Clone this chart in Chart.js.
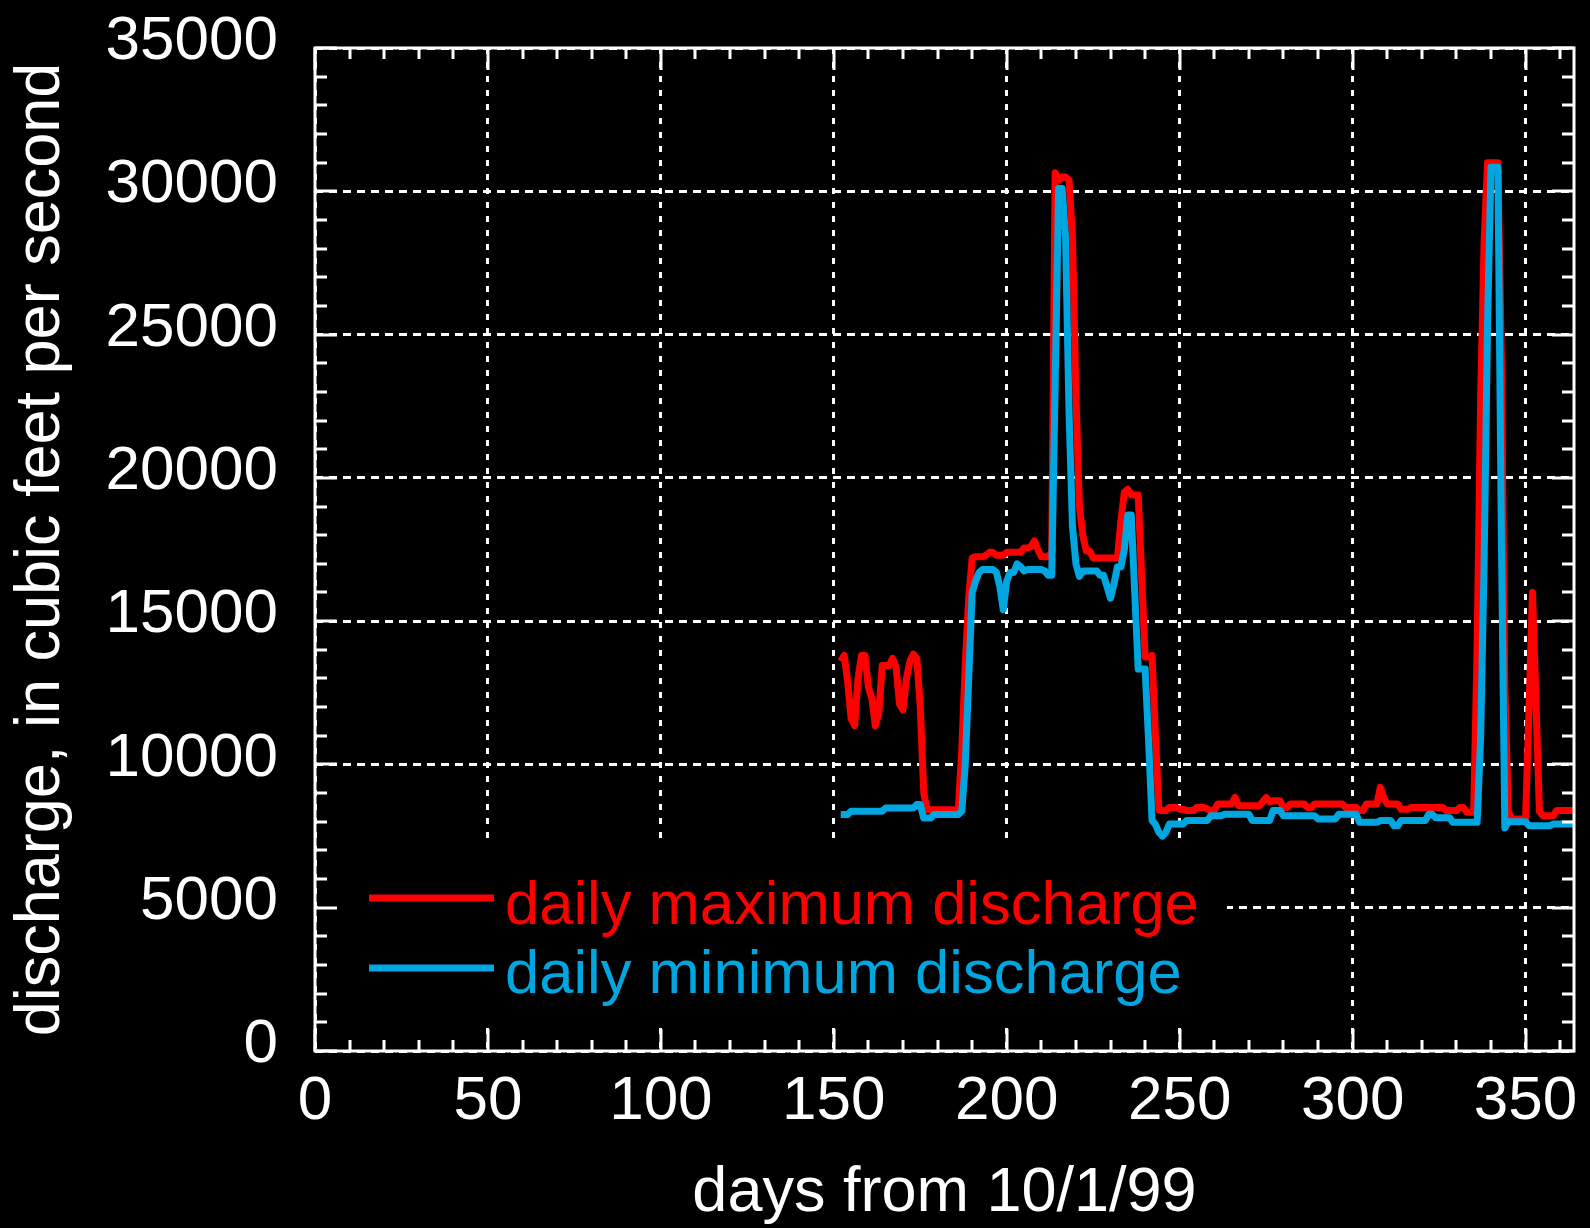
<!DOCTYPE html>
<html>
<head>
<meta charset="utf-8">
<script src="https://cdn.jsdelivr.net/npm/chart.js@4.4.0/dist/chart.umd.min.js"></script>
<style>
  html, body { margin: 0; padding: 0; background: #000; }
  canvas { display: block; }
</style>
</head>
<body>
<canvas id="myChart" width="1590" height="1228"></canvas>
<script>
// first day with data (days from 10/1/99)
var firstDay = 152;

// daily maximum discharge, cfs, one value per day starting at firstDay
var dailyMax = [
  13600, 13800, 12900, 11600, 11350, 13000, 13800, 13800,                 // 152-159
  12700, 12300, 11350, 11800, 13450, 13450, 13450, 13700, 13400, 12100,   // 160
  11900, 13000, 13600, 13850, 13700, 12000, 9000, 8420, 8420, 8420,       // 170
  8420, 8420, 8420, 8420, 8420, 8420, 8450, 10500, 13500, 15800,          // 180
  17200, 17250, 17250, 17250, 17300, 17400, 17400, 17300, 17300, 17300,   // 190
  17400, 17400, 17400, 17400, 17400, 17550, 17550, 17600, 17800, 17500,   // 200
  17250, 17250, 17250, 17400, 30650, 30400, 30500, 30500, 30400, 28400,   // 210
  22900, 19000, 18000, 17450, 17450, 17200, 17200, 17200, 17200, 17200,   // 220
  17200, 17200, 17200, 18500, 19500, 19600, 19400, 19400, 19400, 16600,   // 230
  13750, 13750, 13800, 11000, 8400, 8390, 8390, 8500, 8500, 8500,         // 240
  8440, 8440, 8390, 8390, 8390, 8500, 8500, 8500, 8450, 8390,             // 250
  8390, 8620, 8620, 8620, 8620, 8620, 8850, 8560, 8560, 8560,             // 260
  8560, 8560, 8560, 8560, 8700, 8850, 8700, 8730, 8730, 8730,             // 270
  8500, 8500, 8620, 8620, 8620, 8620, 8620, 8500, 8500, 8620,             // 280
  8620, 8620, 8620, 8620, 8620, 8620, 8620, 8620, 8500, 8500,             // 290
  8500, 8500, 8390, 8390, 8620, 8620, 8620, 8620, 9200, 8850,             // 300
  8620, 8620, 8620, 8620, 8440, 8440, 8440, 8500, 8500, 8500,             // 310
  8500, 8500, 8500, 8500, 8500, 8500, 8500, 8390, 8390, 8390,             // 320
  8390, 8500, 8500, 8330, 8330, 8330, 14140, 22690, 28200, 31000,         // 330
  31000, 31000, 31000, 24160, 12750, 8360, 8100, 8100, 8100, 8100,        // 340
  8100, 12000, 16000, 12200, 8360, 8210, 8210, 8210, 8210, 8390,          // 350
  8390, 8390, 8390, 8390, 8390, 8390                                      // 360-365
];

// daily minimum discharge, cfs
var dailyMin = [
  8250, 8250, 8250, 8370, 8370, 8370, 8370, 8370,                         // 152-159
  8370, 8370, 8370, 8370, 8370, 8480, 8480, 8480, 8480, 8480,             // 160
  8480, 8480, 8480, 8480, 8600, 8600, 8130, 8130, 8130, 8250,             // 170
  8250, 8250, 8250, 8250, 8250, 8250, 8250, 8370, 10000, 13000,           // 180
  16000, 16400, 16700, 16800, 16800, 16800, 16800, 16700, 16200, 15400,   // 190
  16400, 16700, 16700, 17000, 16900, 16750, 16800, 16800, 16800, 16800,   // 200
  16800, 16750, 16600, 16600, 23300, 30100, 30100, 28400, 22300, 18300,   // 210
  17000, 16560, 16750, 16750, 16750, 16750, 16750, 16600, 16600, 16200,   // 220
  15800, 16300, 16900, 16900, 17500, 18700, 18700, 16000, 13330, 13330,   // 230
  13330, 10850, 8050, 7900, 7630, 7500, 7630, 7920, 7920, 7920,           // 240
  7920, 7920, 8040, 8040, 8040, 8040, 8040, 8040, 8040, 8210,             // 250
  8210, 8210, 8210, 8260, 8260, 8260, 8260, 8260, 8260, 8260,             // 260
  8260, 8040, 8040, 8040, 8040, 8040, 8040, 8390, 8390, 8390,             // 270
  8210, 8210, 8210, 8210, 8210, 8210, 8210, 8210, 8210, 8210,             // 280
  8100, 8100, 8100, 8100, 8100, 8100, 8260, 8260, 8260, 8260,             // 290
  8260, 8260, 7980, 7980, 7980, 7980, 7980, 7980, 8040, 8040,             // 300
  8040, 8040, 7860, 7860, 8040, 8040, 8040, 8040, 8040, 8040,             // 310
  8040, 8040, 8260, 8260, 8140, 8140, 8140, 8140, 8140, 7980,             // 320
  7980, 7980, 7980, 7980, 7980, 7980, 7980, 10890, 16950, 25330,          // 330
  30840, 30840, 30840, 18000, 7780, 8000, 8000, 8000, 8000, 8000,         // 340
  8000, 7860, 7860, 7860, 7860, 7860, 7860, 7860, 7920, 7920,             // 350
  7920, 7920, 7920, 7920, 7920, 7920                                      // 360-365
];

// axis ticks
var xTicks = [0, 50, 100, 150, 200, 250, 300, 350];
var yTicks = [0, 5000, 10000, 15000, 20000, 25000, 30000, 35000];

var seriesNames = ['daily maximum discharge', 'daily minimum discharge'];
var seriesColors = ['#ff0000', '#00a6e0'];

var fontFamily = '"Liberation Sans", Arial, Helvetica, sans-serif';
Chart.defaults.font.family = fontFamily;

// turn a value list into {x: day, y: value} points
function toPoints(values) {
  return values.map(function(v, i) {
    return { x: firstDay + i, y: v };
  });
}

// draws the black background, legend box, frame with inward ticks and the legend
var framePlugin = {
  id: 'framePlugin',
  beforeDraw: function(chart) {
    var ctx = chart.ctx;
    ctx.save();
    ctx.fillStyle = '#000';
    ctx.fillRect(0, 0, chart.width, chart.height);
    ctx.restore();
  },
  beforeDatasetsDraw: function(chart) {
    // legend background hides the grid behind the legend
    var ctx = chart.ctx;
    ctx.save();
    ctx.fillStyle = '#000';
    ctx.fillRect(318, 844, 1227 - 318, 1020 - 844);
    ctx.restore();
  },
  afterDatasetsDraw: function(chart) {
    var ctx = chart.ctx;
    var a = chart.chartArea;
    var xs = chart.scales.x;
    var ys = chart.scales.y;
    ctx.save();
    ctx.strokeStyle = '#fff';
    ctx.lineWidth = 3;
    ctx.beginPath();
    // x ticks every 10 days, longer every 50
    for (var d = 0; d <= xs.max; d += 10) {
      var px = Math.round(xs.getPixelForValue(d));
      var len = d % 50 === 0 ? 22 : 11;
      ctx.moveTo(px, a.bottom); ctx.lineTo(px, a.bottom - len);
      ctx.moveTo(px, a.top); ctx.lineTo(px, a.top + len);
    }
    // y ticks every 1000, longer every 5000
    for (var v = 0; v <= ys.max; v += 1000) {
      var py = Math.round(ys.getPixelForValue(v));
      var ylen = v % 5000 === 0 ? 22 : 12;
      ctx.moveTo(a.left, py); ctx.lineTo(a.left + ylen, py);
      ctx.moveTo(a.right, py); ctx.lineTo(a.right - ylen, py);
    }
    ctx.stroke();
    ctx.strokeRect(a.left, a.top, a.right - a.left, a.bottom - a.top);

    // legend
    ctx.font = '61.5px ' + fontFamily;
    ctx.textBaseline = 'alphabetic';
    ctx.textAlign = 'left';
    var rows = [{ lineY: 898, textY: 924 }, { lineY: 968, textY: 993 }];
    rows.forEach(function(r, i) {
      ctx.strokeStyle = seriesColors[i];
      ctx.lineWidth = 7;
      ctx.beginPath();
      ctx.moveTo(369, r.lineY);
      ctx.lineTo(494, r.lineY);
      ctx.stroke();
      ctx.fillStyle = seriesColors[i];
      ctx.fillText(seriesNames[i], 505, r.textY);
    });
    ctx.restore();
  }
};

var ctx = document.getElementById('myChart').getContext('2d');
var myChart = new Chart(ctx, {
  type: 'line',
  data: {
    datasets: [{
      label: seriesNames[0],
      data: toPoints(dailyMax),
      borderColor: seriesColors[0],
      borderWidth: 7,
      borderJoinStyle: 'round',
      pointRadius: 0,
      tension: 0,
      order: 1
    }, {
      label: seriesNames[1],
      data: toPoints(dailyMin),
      borderColor: seriesColors[1],
      borderWidth: 7,
      borderJoinStyle: 'round',
      pointRadius: 0,
      tension: 0,
      order: 0
    }]
  },
  options: {
    responsive: false,
    animation: false,
    devicePixelRatio: 1,
    layout: { padding: { top: 48, right: 16, bottom: 0, left: 0 } },
    plugins: { legend: { display: false }, tooltip: { enabled: false } },
    scales: {
      x: {
        type: 'linear',
        min: 0,
        max: 364,
        afterBuildTicks: function(scale) {
          scale.ticks = xTicks.map(function(v) { return { value: v }; });
        },
        afterFit: function(scale) {
          scale.height = 177;
          scale.paddingLeft = 0;
          scale.paddingRight = 0;
        },
        ticks: {
          color: '#fff',
          font: { size: 62 },
          padding: 14,
          maxRotation: 0,
          callback: function(v) { return String(v); }
        },
        grid: { color: '#fff', lineWidth: 3, drawTicks: false },
        border: { display: false, dash: [6, 8] },
        title: {
          display: true,
          text: 'days from 10/1/99',
          color: '#fff',
          font: { size: 63 },
          padding: { top: 0, bottom: -3 }
        }
      },
      y: {
        min: 0,
        max: 35000,
        afterBuildTicks: function(scale) {
          scale.ticks = yTicks.map(function(v) { return { value: v }; });
        },
        afterFit: function(scale) {
          scale.width = 315;
          scale.paddingTop = 0;
          scale.paddingBottom = 0;
        },
        ticks: {
          color: '#fff',
          font: { size: 62 },
          padding: 37,
          labelOffset: -6,
          callback: function(v) { return String(v); }
        },
        grid: { color: '#fff', lineWidth: 3, drawTicks: false },
        border: { display: false, dash: [8, 6] },
        title: {
          display: true,
          text: 'discharge, in cubic feet per second',
          color: '#fff',
          font: { size: 63 },
          padding: { top: 4, bottom: 0 }
        }
      }
    }
  },
  plugins: [framePlugin]
});
</script>
</body>
</html>
